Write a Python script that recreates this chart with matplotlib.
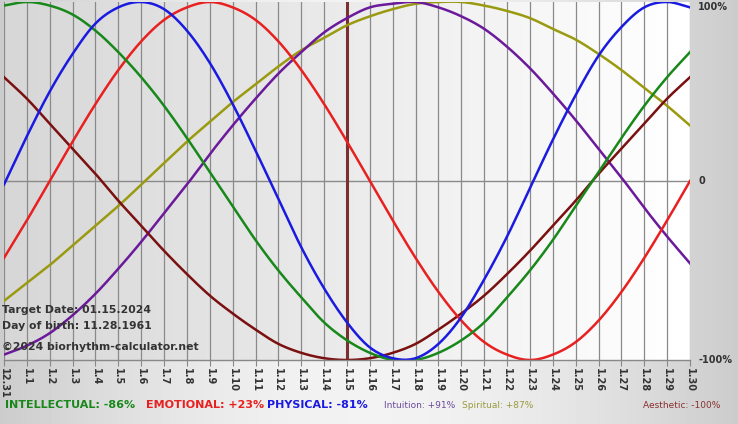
import numpy as np
import matplotlib
matplotlib.use("Agg")
import matplotlib.pyplot as plt

tick_labels = ["12.31"] + [f"1.{i}" for i in range(1, 31)]
physical = [-0.02,0.25,0.50,0.71,0.88,0.97,1.00,0.96,0.84,0.66,0.43,0.17,-0.10,-0.37,-0.60,-0.79,-0.93,-0.99,-0.99,-0.91,-0.76,-0.55,-0.31,-0.04,0.23,0.48,0.70,0.86,0.97,1.00,0.97]
emotional = [-0.43,-0.22,0.00,0.22,0.43,0.62,0.78,0.90,0.97,1.00,0.97,0.90,0.78,0.62,0.43,0.22,0.00,-0.22,-0.43,-0.62,-0.78,-0.90,-0.97,-1.00,-0.97,-0.90,-0.78,-0.62,-0.43,-0.22,0.00]
intellectual = [0.98,1.00,0.98,0.93,0.84,0.72,0.58,0.42,0.24,0.05,-0.14,-0.33,-0.50,-0.65,-0.79,-0.89,-0.96,-1.00,-1.00,-0.96,-0.89,-0.79,-0.65,-0.50,-0.33,-0.14,0.05,0.24,0.42,0.58,0.72]
intuition = [-0.97,-0.92,-0.85,-0.75,-0.63,-0.49,-0.34,-0.18,-0.02,0.15,0.31,0.46,0.60,0.72,0.83,0.91,0.97,0.99,1.00,0.97,0.92,0.85,0.75,0.63,0.49,0.34,0.18,0.02,-0.15,-0.31,-0.46]
spiritual = [-0.67,-0.57,-0.47,-0.36,-0.25,-0.14,-0.02,0.10,0.22,0.33,0.44,0.54,0.64,0.73,0.80,0.87,0.92,0.96,0.99,1.00,1.00,0.98,0.95,0.91,0.85,0.79,0.71,0.62,0.52,0.42,0.31]
aesthetic = [0.58,0.46,0.32,0.18,0.04,-0.11,-0.25,-0.39,-0.52,-0.64,-0.74,-0.83,-0.91,-0.96,-0.99,-1.00,-0.99,-0.96,-0.91,-0.83,-0.74,-0.64,-0.52,-0.39,-0.25,-0.11,0.04,0.18,0.32,0.46,0.58]
target_day = 15

def smooth(y, n=12):
    y = np.asarray(y, float)
    p = np.concatenate([[2*y[0]-y[1]], y, [2*y[-1]-y[-2]]])
    xs, ys = [], []
    for i in range(len(y)-1):
        p0, p1, p2, p3 = p[i], p[i+1], p[i+2], p[i+3]
        t = np.linspace(0, 1, n, endpoint=False)
        ys.append(0.5*((2*p1) + (-p0+p2)*t + (2*p0-5*p1+4*p2-p3)*t**2 + (-p0+3*p1-3*p2+p3)*t**3))
        xs.append(i + t)
    xs.append([len(y)-1]); ys.append([y[-1]])
    return np.concatenate(xs), np.concatenate(ys)

fig = plt.figure(figsize=(7.38, 4.24), dpi=100)
bg = fig.add_axes([0, 0, 1, 1], zorder=-10)
g = np.linspace(0, 1, 200)
bg.imshow(np.outer(np.ones(50), 0.80 + 0.15*np.sin(np.pi*g)), cmap="gray", vmin=0, vmax=1, aspect="auto", extent=[0, 1, 0, 1])
bg.axis("off")

W, H = 738, 424
ax = fig.add_axes([4/W, 1-360/H, (690-4)/W, (360-2)/H])
ax.imshow(np.outer(np.ones(10), np.linspace(0.84, 1.0, 200)), cmap="gray", vmin=0, vmax=1,
          aspect="auto", extent=[0, 30, -1, 1], zorder=0)
ax.set_xlim(0, 30); ax.set_ylim(-1, 1)
days = np.arange(len(tick_labels))
for d in days:
    ax.axvline(d, color="#8a8a8a", lw=0.9, zorder=1)
ax.axhline(0, color="#8a8a8a", lw=1, zorder=1)
ax.axvline(target_day, color="#7a3030", lw=2.2, zorder=2)

series = [(spiritual, "#9a9a10"), (intuition, "#6a1a9a"), (aesthetic, "#7a1010"),
          (emotional, "#e82020"), (intellectual, "#18881a"), (physical, "#1a1ae0")]
for vals, c in series:
    xs, ys = smooth(vals)
    ax.plot(xs, ys, color=c, lw=1.8, zorder=3)

ax.set_xticks(days)
ax.set_xticklabels(tick_labels, rotation=-90, fontsize=7, color="#333333", fontweight="bold")
ax.tick_params(axis="x", length=4, color="#888888", pad=2)
ax.set_yticks([])
for s in ax.spines.values():
    s.set_visible(False)
ax.plot([0, 30], [-1, -1], color="#888888", lw=1, zorder=4, clip_on=False)

for y, t, va in [(1, "100%", "top"), (0, "0", "center"), (-1, "-100%", "center")]:
    ax.text(30.35, y, t, fontsize=7, fontweight="bold", color="#333333", va=va, ha="left")

for yy, t in [(310, "Target Date: 01.15.2024"), (326, "Day of birth: 11.28.1961"), (347, "©2024 biorhythm-calculator.net")]:
    fig.text(2/W, 1-yy/H, t, fontsize=7.8, fontweight="bold", color="#333333", va="center")

legend = [(5, "INTELLECTUAL: -86%", "#18881a", True), (146, "EMOTIONAL: +23%", "#e82020", True),
          (267, "PHYSICAL: -81%", "#1a1ae0", True), (384, "Intuition: +91%", "#6a4a9a", False),
          (462, "Spiritual: +87%", "#9a9a40", False), (643, "Aesthetic: -100%", "#8a3030", False)]
for x, t, c, b in legend:
    fig.text(x/W, 1-405/H, t, fontsize=8 if b else 6.5, fontweight="bold" if b else "normal",
             color=c, va="center")

fig.savefig("out.png", dpi=100)
